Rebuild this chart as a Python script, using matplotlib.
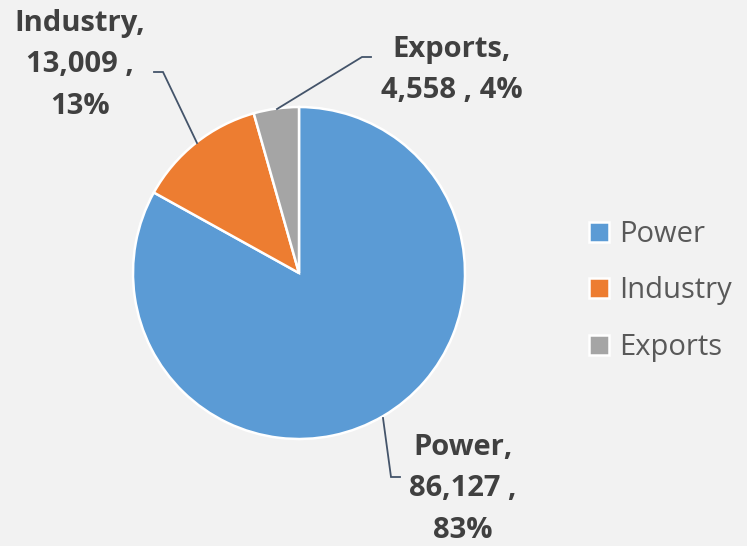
import matplotlib
matplotlib.use("Agg")
import matplotlib.pyplot as plt

categories = ["Power", "Industry", "Exports"]
values = [86127, 13009, 4558]
percents = ["83%", "13%", "4%"]
colors = ["#5B9BD5", "#ED7D31", "#A5A5A5"]

W, H = 747, 546
fig = plt.figure(figsize=(W / 100, H / 100), dpi=100, facecolor="#F2F2F2")
cx, cy, r = 299, 273, 166
ax = fig.add_axes([(cx - r) / W, (H - cy - r) / H, 2 * r / W, 2 * r / H])
ax.set_facecolor("#F2F2F2")

wedges, _ = ax.pie(values, colors=colors, startangle=90, counterclock=False,
                   radius=1.0, wedgeprops=dict(edgecolor="white", linewidth=1.8))
ax.set_xlim(-1, 1)
ax.set_ylim(-1, 1)
ax.set_aspect("equal")
ax.axis("off")

def d(px, py):
    return ((px - cx) / r, (cy - py) / r)

labels = [f"{c},\n{v:,} ,\n{p}" for c, v, p in zip(categories, values, percents)]
labels[2] = f"{categories[2]},\n{values[2]:,} , {percents[2]}"

# label positions (pixel centers) and leader paths (pixel)
label_pos = [(463, 489), (80, 65), (452, 70)]
leaders = [
    [(383, 418), (391, 477), (400, 477)],
    [(197, 143), (163, 72), (154, 72)],
    [(277, 109), (362, 57), (371, 57)],
]
fp = dict(family=["Open Sans", "DejaVu Sans"], fontsize=21, fontweight="bold",
          color="#404040", ha="center", va="center", linespacing=1.55)
for lab, pos, path in zip(labels, label_pos, leaders):
    x, y = d(*pos)
    ax.text(x, y, lab, clip_on=False, **fp)
    xs, ys = zip(*[d(*p) for p in path])
    ax.plot(xs, ys, color="#44546A", lw=1.3, clip_on=False, solid_joinstyle="miter")

leg = fig.legend(wedges, categories, loc="center left",
                 bbox_to_anchor=(589 / W, 1 - 291 / H), frameon=False,
                 prop=dict(family=["Open Sans", "DejaVu Sans"], size=21),
                 handlelength=0.68, handleheight=0.68, handletextpad=0.35,
                 labelspacing=0.95, borderpad=0, borderaxespad=0)
for t in leg.get_texts():
    t.set_color("#595959")

fig.savefig("out.png", dpi=100, facecolor="#F2F2F2")
